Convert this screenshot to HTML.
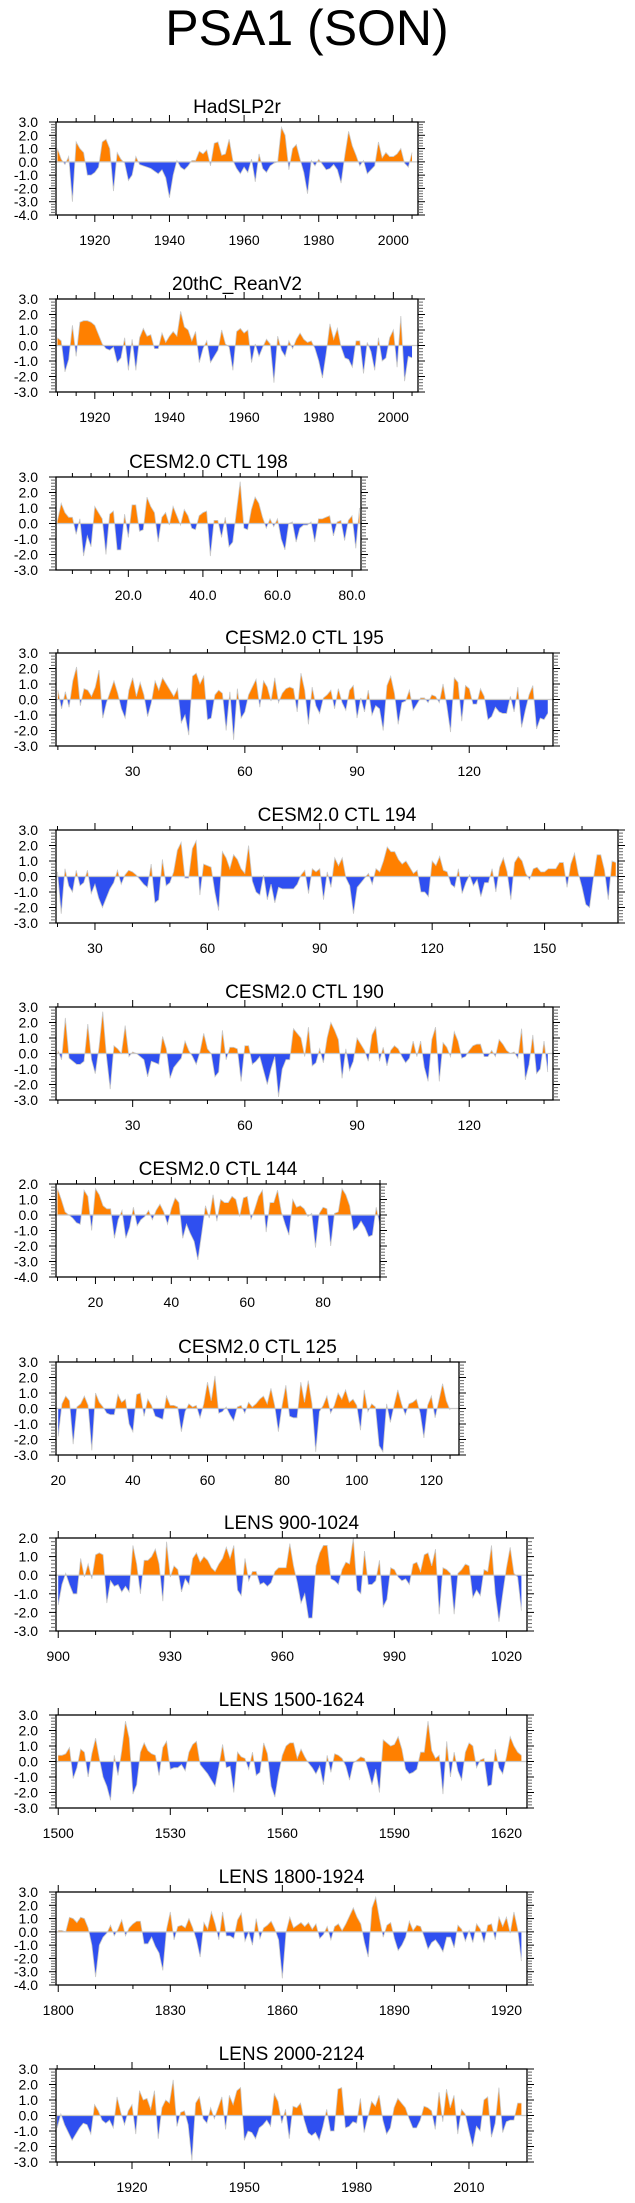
<!DOCTYPE html>
<html><head><meta charset="utf-8"><style>
html,body{margin:0;padding:0;background:#fff;}
svg{display:block;font-family:"Liberation Sans",Arial,sans-serif;}
</style></head><body>
<svg id="chart" width="635" height="2203" viewBox="0 0 635 2203">
<text x="307" y="45" font-size="50" text-anchor="middle">PSA1 (SON)</text>
</svg>
<script>
const hadslp = [1.0,0.2,-0.2,0.4,-3.0,1.5,1.0,0.7,-1.0,-1.0,-0.8,-0.4,1.5,1.7,1.0,-2.2,0.7,0.2,-0.1,-1.4,-1.0,0.4,-0.2,-0.3,-0.4,-0.5,-0.7,-0.9,-0.6,-1.2,-2.7,-1.0,0.1,-0.4,-0.6,-0.3,0.1,0.1,0.8,0.6,0.9,-0.3,1.4,1.5,0.5,0.6,1.7,0.1,-0.5,-0.9,-0.4,-0.8,0.2,-1.5,0.6,-0.5,-0.8,-0.3,-0.1,0.0,2.6,2.0,-0.6,1.0,1.3,0.2,-0.8,-2.4,0.1,-0.3,0.2,-0.2,-0.6,-0.5,-0.2,-0.6,-1.6,0.5,2.3,1.2,0.5,-0.3,0.1,-0.9,-0.6,-0.3,1.5,0.3,0.7,0.4,0.4,0.6,1.0,-0.1,-0.4,0.7];
const reanv2 = [0.5,0.3,-1.7,-0.9,1.3,-0.7,1.5,1.6,1.6,1.5,1.3,0.7,0.1,-0.2,-0.3,-0.1,-1.1,-0.8,0.5,-1.6,0.4,-1.6,0.5,1.1,0.6,0.7,-0.2,-0.2,0.8,0.2,0.6,0.9,0.6,2.2,1.2,1.0,0.3,0.9,-1.1,-0.2,0.3,-1.1,-0.7,-0.3,1.0,0.1,-0.1,-1.6,0.9,1.1,0.8,1.0,-1.1,0.1,-0.7,-0.1,0.4,0.1,-2.4,0.6,-0.3,-0.7,0.3,-0.2,0.4,0.8,0.4,0.2,0.3,-0.2,-1.0,-2.1,-0.5,1.4,0.4,1.1,-0.1,-0.8,-0.9,-1.4,0.3,0.3,-1.8,0.2,-0.4,-1.6,0.5,-1.0,-0.8,0.5,1.0,-1.4,1.9,-2.3,-0.7,-0.8];
const ctl198 = [0.2,1.3,0.7,0.4,0.4,-0.7,0.3,-2.1,-0.8,-1.5,1.1,0.7,0.3,-2.0,0.6,0.8,-1.7,-1.7,0.6,-0.9,1.2,1.2,-0.5,-0.4,1.7,1.1,0.7,-1.2,0.4,0.7,-0.1,1.1,0.5,-0.1,0.9,0.5,-0.3,-0.4,0.5,0.7,0.8,-2.1,0.2,0.2,-0.9,0.4,-1.5,-1.2,0.8,2.7,-0.3,-0.4,0.9,1.7,1.3,0.4,-0.3,0.3,-0.2,0.3,-1.0,-1.7,0.0,0.1,-1.2,-0.3,-0.1,-0.1,0.1,-1.2,0.3,0.3,0.4,0.5,-0.8,0.1,0.2,-1.1,0.2,0.5,-1.6,1.0];
const ctl195 = [0.6,-0.6,0.5,-0.5,1.2,2.1,-0.4,0.7,0.6,0.2,0.8,1.9,-1.2,-0.2,0.5,1.2,0.4,-0.6,-1.2,0.6,1.4,0.2,1.1,0.3,-1.1,-0.2,1.2,0.6,1.4,1.0,0.6,0.2,0.7,-1.5,-1.0,-2.3,1.5,1.7,1.0,1.5,-1.3,-1.2,0.3,0.6,0.4,-2.0,0.5,-2.6,0.7,-1.2,-0.8,0.3,0.8,1.3,-0.5,1.2,0.8,-0.1,1.4,-0.2,0.4,0.7,0.8,0.7,-0.8,1.7,0.6,-1.6,0.8,-0.4,-0.9,0.1,0.3,0.6,-0.6,0.7,-0.2,-0.7,0.6,0.9,-1.2,0.1,-0.8,0.6,-1.0,-0.4,-0.6,-2.0,0.9,1.5,0.4,-1.6,-0.2,-0.1,0.6,-0.7,-0.3,0.1,0.1,-0.2,0.3,0.2,-0.2,1.0,-0.4,-2.1,1.4,1.1,-1.4,0.9,0.7,-0.3,-0.3,0.7,0.2,-1.3,-1.1,-0.5,-0.8,-0.9,-0.9,0.2,-0.8,0.8,-1.8,-0.7,0.3,0.9,-1.9,-1.2,-1.3,-0.9];
const ctl194 = [0.3,-2.4,0.5,-0.6,-1.0,0.4,-0.6,-0.4,0.4,-1.1,-0.5,-1.4,-2.0,-1.4,-0.8,-0.4,0.4,-0.5,0.1,0.4,0.3,0.1,-0.2,-0.5,-0.7,0.8,-1.7,-1.5,1.1,-0.6,-0.4,0.3,1.7,2.2,-0.1,-0.1,1.8,2.3,-1.2,0.8,0.7,0.6,-1.0,-2.2,1.6,1.2,0.5,1.4,1.1,0.5,0.2,2.0,-0.3,-1.0,-1.2,0.1,-1.5,-0.5,-1.7,-0.7,-0.8,-0.8,-0.8,-0.8,-0.5,0.1,0.4,-1.1,0.5,0.3,0.5,-1.5,0.3,-0.7,1.2,0.7,1.2,-0.1,-0.6,-2.4,-0.7,-0.4,-0.1,0.2,-0.5,0.5,0.3,1.0,1.9,1.6,1.6,1.1,0.8,1.0,0.6,0.2,0.4,-1.0,-1.0,-1.3,1.0,0.7,1.3,0.4,0.3,-0.5,-0.7,0.5,-1.1,-0.4,0.1,-0.6,-0.2,-1.3,-0.4,-0.4,0.5,-1.0,0.6,1.2,0.3,-1.5,0.9,1.3,1.0,0.2,-0.2,0.5,0.6,0.3,0.3,0.5,0.5,0.5,0.9,0.9,-0.7,0.8,1.5,0.2,-0.7,-1.8,-2.0,-0.2,1.4,1.4,0.4,-1.5,1.0,0.9];
const ctl190 = [0.2,-0.4,2.3,-0.3,-0.5,-0.7,-0.7,-0.5,1.9,-0.4,-1.3,0.4,2.7,-0.2,-2.3,0.5,0.3,0.0,1.8,-0.2,0.1,0.0,-0.2,-0.4,-1.5,-0.5,-0.6,-0.7,1.1,0.3,-1.6,-0.9,-0.6,-0.3,0.8,0.2,-0.2,-0.7,0.1,1.3,0.3,0.0,-1.5,-1.2,1.5,-0.4,0.4,0.4,0.3,-1.8,0.5,0.5,-0.7,-0.5,-0.2,-1.1,-2.0,-1.0,-0.2,-2.8,-1.0,-0.4,-0.4,1.6,1.3,1.0,-0.2,1.7,-0.8,-0.6,0.3,-0.6,1.0,2.0,1.5,0.9,-1.6,0.3,-1.1,-0.5,1.0,0.6,0.2,-0.5,1.2,1.7,-0.5,0.4,-0.8,0.2,0.5,0.3,-0.2,-0.6,-0.3,0.8,-0.2,0.8,-0.9,-1.8,0.9,1.7,-1.8,0.7,0.4,-0.2,1.4,0.8,-0.3,-0.2,0.2,0.5,0.6,0.6,-0.2,-0.2,0.2,-0.2,0.9,0.6,0.2,0.0,0.1,-0.3,1.6,-1.7,-0.7,1.2,-1.3,-1.0,0.8,-1.2];
const ctl144 = [1.7,1.0,0.2,0.0,-0.2,-0.5,-0.6,1.6,1.2,-1.0,1.7,1.3,0.6,0.4,0.4,-1.5,-0.3,0.3,-1.5,-0.8,0.5,-0.7,-0.3,-0.1,0.3,-0.3,0.3,0.7,0.2,-0.6,0.4,1.1,0.8,-1.5,-0.6,-1.2,-1.7,-2.9,-1.2,0.6,-0.2,1.3,-0.4,1.0,0.8,0.8,1.2,1.0,-0.1,1.1,1.2,-0.3,0.4,1.2,1.6,-1.1,0.8,0.8,1.6,0.2,-0.6,-1.3,1.0,0.5,0.6,0.4,-0.1,0.1,-2.1,0.1,0.5,0.4,-2.0,0.1,0.2,1.7,1.3,0.6,-1.0,-0.8,-0.4,-0.8,-1.4,-1.3,0.5,-0.7];
const ctl125 = [-1.8,0.3,0.8,0.5,-2.3,0.1,0.3,0.8,0.2,-2.7,1.0,0.4,0.1,-0.3,-0.4,-0.4,0.9,0.4,0.6,-1.0,-1.5,0.9,1.0,-0.5,0.6,0.2,-0.5,-0.6,-0.7,0.8,0.2,0.2,0.1,-1.5,-0.2,0.3,0.1,0.2,-0.6,0.3,1.7,0.5,2.1,-0.3,-0.2,0.1,-0.4,-0.8,0.1,0.2,-0.3,0.4,0.1,0.3,0.6,0.8,0.3,1.3,0.2,-1.5,0.2,1.5,-0.5,-0.6,-0.6,1.7,0.4,1.8,0.3,-2.8,-0.2,0.2,0.8,-0.3,0.2,1.0,0.6,1.2,0.4,0.6,0.2,-1.4,1.2,-0.2,0.3,0.1,-2.4,-2.8,0.3,-0.9,0.2,1.2,0.3,-0.4,0.3,0.4,0.6,-0.3,-1.9,0.2,0.8,-0.6,0.5,1.6,0.5,-0.1];
const lens900 = [-1.6,-0.5,0.1,-0.5,-1.0,-1.0,0.9,-0.1,0.6,-0.2,1.1,1.2,1.1,-1.5,-0.3,-0.6,-0.5,-0.9,-0.6,-0.9,1.6,0.6,-1.0,0.8,0.8,1.0,1.4,0.6,-1.4,1.8,-0.1,0.5,0.3,-0.9,-0.2,-0.5,0.9,1.2,0.7,1.0,0.8,0.4,0.2,0.6,0.9,1.5,0.9,1.6,-0.8,-1.1,0.9,-0.3,0.2,0.2,-0.5,-0.4,-0.6,-0.4,0.2,0.4,0.4,0.4,1.7,0.5,-0.4,-1.5,-1.0,-2.3,-2.3,0.5,1.2,1.6,1.6,-0.2,-0.3,-0.5,0.3,0.7,0.6,2.0,-0.8,-1.0,1.3,-0.5,-0.5,-0.3,0.8,-1.7,-1.3,0.4,0.3,-0.1,-0.3,-0.2,-0.5,0.6,0.7,0.2,1.1,1.2,0.5,1.4,-2.1,0.4,0.3,0.1,-2.1,0.1,0.3,0.6,0.5,-1.2,-0.8,-1.1,0.3,0.2,1.6,-1.0,-2.5,-1.0,0.4,1.5,0.1,-0.1,-1.9];
const lens1500 = [0.4,0.4,0.5,0.9,-1.1,-0.4,0.8,0.6,-1.0,0.5,1.5,0.2,-1.0,-1.6,-2.5,0.4,-0.9,0.7,2.6,1.5,-2.1,-1.5,0.6,1.2,0.7,0.5,0.4,-0.9,0.9,1.3,-0.5,-0.4,-0.4,-0.2,-0.6,0.6,1.1,1.3,-0.2,-0.5,-0.8,-1.2,-1.6,-0.3,1.1,-0.4,-0.3,-2.0,0.6,0.3,0.2,-0.5,0.6,-0.9,-0.7,1.2,0.5,-1.6,-2.3,-0.8,0.4,1.0,1.2,1.2,0.2,0.8,0.3,-0.1,-0.4,-0.8,-0.3,-1.5,0.4,-0.7,0.5,0.4,0.2,-0.3,-1.2,-0.1,0.1,0.3,0.2,-0.6,-1.5,-0.5,-2.0,1.4,1.2,1.0,1.1,1.6,0.8,-0.5,-0.8,-0.7,-0.5,0.6,0.6,2.6,0.7,0.2,0.4,-2.1,1.3,-1.0,0.6,-0.6,-1.2,0.6,1.2,1.0,-0.4,0.1,0.2,-1.6,-1.5,0.8,-0.4,-0.8,0.3,1.6,1.0,0.6,0.4];
const lens1800 = [0.1,0.1,0.0,1.1,1.0,0.7,1.1,1.0,0.3,-1.0,-3.4,-1.0,-0.4,-0.1,0.5,-0.3,0.2,0.9,-0.3,0.3,0.6,0.8,0.8,-0.9,-0.9,-0.4,-1.1,-1.6,-2.9,0.2,1.5,-0.6,0.4,0.5,0.3,1.0,0.3,-0.6,-1.9,0.7,0.2,1.5,0.6,-0.6,1.5,-0.3,-0.3,-0.5,0.9,1.4,-0.7,0.0,-1.0,1.0,-0.5,0.3,0.5,0.8,0.2,-0.6,-3.5,0.0,1.1,0.3,0.5,0.7,0.4,0.7,0.2,0.6,-0.5,-0.2,0.4,-0.6,0.4,0.6,0.1,0.6,1.2,1.8,1.1,0.6,-0.8,-1.9,1.8,2.6,1.0,-0.4,0.5,0.7,-0.5,-1.4,-1.0,-0.4,0.8,0.1,0.5,0.4,-0.4,-1.3,-0.8,-0.6,-1.0,-1.5,-0.4,-0.4,-1.2,0.5,0.2,-0.7,0.1,-0.8,0.6,0.2,-0.8,0.5,0.6,-0.6,1.1,0.4,1.1,-0.1,1.5,0.2,-2.2];
const lens2000 = [-0.8,0.1,-0.6,-1.1,-1.6,-1.2,-0.8,-0.5,-0.6,-1.2,0.7,0.3,-0.3,-0.5,-0.3,-0.8,1.2,0.2,-0.6,0.3,0.7,-1.2,1.6,1.0,1.1,0.4,1.6,-1.5,0.5,1.0,0.8,2.3,-0.7,0.2,0.3,-0.6,-2.9,0.8,1.2,-0.2,-0.5,0.5,-0.2,0.5,1.2,-0.9,1.3,0.7,1.6,1.8,-1.6,-1.0,-1.1,-1.5,-0.8,-0.6,-0.3,-0.7,1.4,0.9,-0.5,0.4,-1.5,0.6,0.5,0.8,-0.3,-1.1,-1.3,-1.1,-1.6,-0.7,0.4,-1.0,-1.0,1.7,1.8,-0.8,-0.7,-0.4,-0.5,1.1,-1.1,-0.1,0.9,0.6,1.3,-0.3,-1.2,-0.8,0.5,1.1,0.8,0.5,-0.2,-0.8,-0.8,-0.3,0.6,0.5,0.3,-0.9,1.5,-0.4,1.7,0.5,1.3,-1.2,0.4,0.1,-1.0,-2.0,-0.7,-1.0,1.0,1.2,-1.4,-0.5,1.8,-1.1,-0.4,-0.3,-0.3,0.8,0.8];

const panelTitles = ["HadSLP2r","20thC_ReanV2","CESM2.0 CTL 198","CESM2.0 CTL 195","CESM2.0 CTL 194","CESM2.0 CTL 190","CESM2.0 CTL 144","CESM2.0 CTL 125","LENS 900-1024","LENS 1500-1624","LENS 1800-1924","LENS 2000-2124"];
const panelSeries = [hadslp,reanv2,ctl198,ctl195,ctl194,ctl190,ctl144,ctl125,lens900,lens1500,lens1800,lens2000];
const panelStart = [1910,1910,1,10,20,10,10,20,900,1500,1800,1900];
const panelYMax = [3,3,3,3,3,3,2,3,2,3,3,3];
const panelYMin = [-4,-3,-3,-3,-3,-3,-4,-3,-3,-3,-4,-3];
const panelXMin = [1909.6,1909.6,0.6,9.5,19.6,9.5,9.6,19.4,899.4,1499.4,1799.4,1899.7];
const panelXMax = [2006.6,2006.6,82.4,142.4,169.6,142.4,95.0,127.4,1025.5,1625.5,1925.5,2025.5];
const majorStep = [20,20,20,30,30,30,20,20,30,30,30,30];
const minorStep = [5,5,5,10,10,10,5,5,10,10,10,10];
const labelFmt = [0,0,1,0,0,0,0,0,0,0,0,0];

const layoutTop = [122,299,477,653,830,1007,1184,1362,1538,1715,1892,2069];
const layoutRight = [418,418,361,553,618,553,380,459,527,527,527,527];
const LEFT = 56, H = 93;

const svg = document.getElementById('chart');
const NS = 'http://www.w3.org/2000/svg';
function mk(tag, attrs, parent){
  const e = document.createElementNS(NS, tag);
  for (const k in attrs) e.setAttribute(k, attrs[k]);
  (parent||svg).appendChild(e);
  return e;
}
const defs = mk('defs', {});

panelSeries.forEach((data, p) => {
  const top = layoutTop[p], bot = top + H, right = layoutRight[p];
  const ymax = panelYMax[p], ymin = panelYMin[p];
  const xmin = panelXMin[p], xmax = panelXMax[p];
  const xs = u => LEFT + (u - xmin) / (xmax - xmin) * (right - LEFT);
  const ys = v => top + (ymax - v) / (ymax - ymin) * H;
  const g = mk('g', {});
  
  

  const t = mk('text', {x:(LEFT+right)/2, y: top - 9, 'font-size':19, 'text-anchor':'middle'}, g);
  t.textContent = panelTitles[p];
  
  

  const y0 = ys(0);
  const cu = 'cu'+p, cd = 'cd'+p;
  const c1 = mk('clipPath', {id:cu}, defs); mk('rect', {x:LEFT, y:top, width:right-LEFT, height:y0-top}, c1);
  const c2 = mk('clipPath', {id:cd}, defs); mk('rect', {x:LEFT, y:y0, width:right-LEFT, height:bot-y0}, c2);

  let d = 'M' + xs(panelStart[p]).toFixed(2) + ',' + y0.toFixed(2);
  let line = '';
  data.forEach((v,i) => {
    const px = xs(panelStart[p]+i).toFixed(2), py = ys(v).toFixed(2);
    d += ' L' + px + ',' + py;
    line += (i?' L':'M') + px + ',' + py;
  });
  d += ' L' + xs(panelStart[p]+data.length-1).toFixed(2) + ',' + y0.toFixed(2) + ' Z';
  const up = mk('path', {d:d, fill:'#ff8000', 'clip-path':'url(#'+cu+')'}, g);
  
  
  const dn = mk('path', {d:d, fill:'#2f4ff0', 'clip-path':'url(#'+cd+')'}, g);
  
  
  const ln = mk('path', {d:line, fill:'none', stroke:'#c8c8c8', 'stroke-width':0.8}, g);
  
  
  const zl = mk('line', {x1:LEFT, x2:right, y1:y0, y2:y0, stroke:'#c8c8c8', 'stroke-width':1.2}, g);
  
  

  const fr = mk('rect', {x:LEFT, y:top, width:right-LEFT, height:H, fill:'none', stroke:'#000', 'stroke-width':1.3}, g);
  
  

  for (let k = Math.round(ymin*5); k <= Math.round(ymax*5); k++) {
    const v = k/5, yy = ys(v), major = (k % 5 === 0);
    const len = major ? 7 : 5, col = major ? '#000' : '#666';
    mk('line', {x1:LEFT-len, x2:LEFT, y1:yy, y2:yy, stroke:col, 'stroke-width':1}, g);
    mk('line', {x1:right, x2:right+len, y1:yy, y2:yy, stroke:col, 'stroke-width':1}, g);
    if (major) {
      const lt = mk('text', {x:38, y:yy+5, 'font-size':14, 'text-anchor':'end'}, g);
      lt.textContent = v.toFixed(1);
      
      
    }
  }
  const ms = minorStep[p], Ms = majorStep[p];
  for (let u = Math.ceil(xmin/ms)*ms; u <= xmax; u += ms) {
    const xx = xs(u), major = (u % Ms === 0);
    const len = major ? 7 : 4;
    mk('line', {x1:xx, x2:xx, y1:top-len, y2:top, stroke:'#000', 'stroke-width':1}, g);
    mk('line', {x1:xx, x2:xx, y1:bot, y2:bot+len, stroke:'#000', 'stroke-width':1}, g);
    if (major) {
      const xt = mk('text', {x:xx, y:bot+30, 'font-size':14, 'text-anchor':'middle'}, g);
      xt.textContent = labelFmt[p] ? u.toFixed(1) : String(u);
      
      
    }
  }
});
</script>
</body></html>
